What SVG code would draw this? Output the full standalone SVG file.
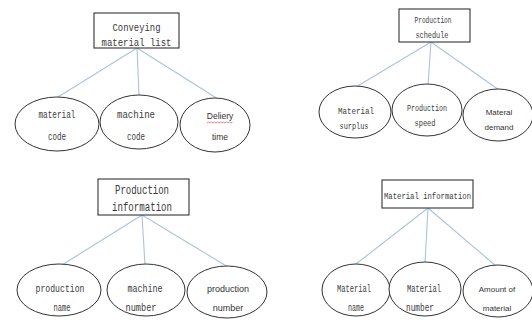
<svg xmlns="http://www.w3.org/2000/svg" width="532" height="325" viewBox="0 0 532 325">
<style>
.box{fill:#fff;stroke:#333;stroke-width:1.1}
.ell{fill:#fff;stroke:#333;stroke-width:1}
.con{stroke:#a9c4dc;stroke-width:1.1;fill:none}
.m{font-family:"Liberation Mono","DejaVu Sans Mono",monospace;fill:#3a3a3a;text-anchor:middle}
.s{font-family:"Liberation Sans",Arial,sans-serif;fill:#333;text-anchor:middle}
</style>
<rect width="532" height="325" fill="#fff"/>
<g id="connectors">
<path class="con" d="M137 48L58 97M137 48L139 95M137 48L218 99"/>
<path class="con" d="M431 42L356 87M431 42L428 85M431 42L499 90"/>
<path class="con" d="M142 215L62 265M142 215L145 265M142 215L228 267"/>
<path class="con" d="M428 208L356 264M428 208L425 263M428 208L496 266"/>
</g>
<g id="conveying-material-list">
<rect class="box" x="94" y="13" width="85" height="35"/>
<text class="m" x="136.5" y="31" font-size="11" textLength="48" lengthAdjust="spacingAndGlyphs">Conveying</text>
<text class="m" x="136.5" y="46" font-size="11" textLength="70" lengthAdjust="spacingAndGlyphs">material list</text>
</g>
<g id="material-code">
<ellipse class="ell" cx="57" cy="124" rx="42" ry="27"/>
<text class="m" x="57" y="118" font-size="10" textLength="37" lengthAdjust="spacingAndGlyphs">material</text>
<text class="m" x="57" y="140" font-size="10" textLength="18" lengthAdjust="spacingAndGlyphs">code</text>
</g>
<g id="machine-code">
<ellipse class="ell" cx="139" cy="122" rx="39" ry="27"/>
<text class="m" x="136" y="118" font-size="10" textLength="38" lengthAdjust="spacingAndGlyphs">machine</text>
<text class="m" x="136" y="140" font-size="10" textLength="18" lengthAdjust="spacingAndGlyphs">code</text>
</g>
<g id="delivery-time">
<ellipse class="ell" cx="215" cy="125" rx="35" ry="27"/>
<text class="s" x="220" y="119" font-size="8.5">Deliery</text>
<path d="M207 123l1.5 -1 1.5 1 1.5 -1 1.5 1 1.5 -1 1.5 1 1.5 -1 1.5 1 1.5 -1 1.5 1 1.5 -1 1.5 1 1.5 -1 1.5 1 1.5 -1 1.5 1 1.5 -1" fill="none" stroke="#e03030" stroke-width="0.6"/>
<text class="s" x="220" y="140" font-size="8.5">time</text>
</g>
<g id="production-schedule">
<rect class="box" x="399" y="9" width="71" height="33"/>
<text class="m" x="433" y="23" font-size="8.5" textLength="37" lengthAdjust="spacingAndGlyphs">Production</text>
<text class="m" x="432" y="38" font-size="8.5" textLength="33" lengthAdjust="spacingAndGlyphs">schedule</text>
</g>
<g id="material-surplus">
<ellipse class="ell" cx="355" cy="112" rx="36" ry="26"/>
<text class="m" x="356" y="114" font-size="9" textLength="36" lengthAdjust="spacingAndGlyphs">Material</text>
<text class="m" x="354" y="129" font-size="9" textLength="29" lengthAdjust="spacingAndGlyphs">surplus</text>
</g>
<g id="production-speed">
<ellipse class="ell" cx="427" cy="110" rx="35" ry="26"/>
<text class="m" x="427" y="111" font-size="9" textLength="40" lengthAdjust="spacingAndGlyphs">Production</text>
<text class="m" x="425" y="126" font-size="9" textLength="21" lengthAdjust="spacingAndGlyphs">speed</text>
</g>
<g id="material-demand">
<ellipse class="ell" cx="498" cy="115" rx="35" ry="26"/>
<text class="s" x="499" y="115" font-size="8">Materal</text>
<text class="s" x="499" y="130" font-size="8">demand</text>
</g>
<g id="production-information">
<rect class="box" x="98" y="179" width="91" height="36"/>
<text class="m" x="142" y="194" font-size="12" textLength="54" lengthAdjust="spacingAndGlyphs">Production</text>
<text class="m" x="142" y="211" font-size="12" textLength="60" lengthAdjust="spacingAndGlyphs">information</text>
</g>
<g id="production-name">
<ellipse class="ell" cx="59" cy="290" rx="42" ry="26"/>
<text class="m" x="60" y="292" font-size="10.5" textLength="49" lengthAdjust="spacingAndGlyphs">production</text>
<text class="m" x="62" y="311" font-size="10.5" textLength="17" lengthAdjust="spacingAndGlyphs">name</text>
</g>
<g id="machine-number">
<ellipse class="ell" cx="146" cy="290" rx="39" ry="26"/>
<text class="m" x="145" y="292" font-size="10.5" textLength="35" lengthAdjust="spacingAndGlyphs">machine</text>
<text class="m" x="141" y="311" font-size="10" textLength="31" lengthAdjust="spacingAndGlyphs">number</text>
</g>
<g id="production-number">
<ellipse class="ell" cx="227" cy="292" rx="40" ry="26"/>
<text class="s" x="228" y="292" font-size="9">production</text>
<text class="s" x="228" y="311" font-size="9">number</text>
</g>
<g id="material-information">
<rect class="box" x="382" y="180" width="91" height="28"/>
<text class="m" x="427.5" y="199" font-size="9.5" textLength="87" lengthAdjust="spacingAndGlyphs">Material information</text>
</g>
<g id="material-name">
<ellipse class="ell" cx="356" cy="290" rx="34" ry="26"/>
<text class="m" x="354" y="292" font-size="10" textLength="34" lengthAdjust="spacingAndGlyphs">Material</text>
<text class="m" x="356" y="311" font-size="10" textLength="16" lengthAdjust="spacingAndGlyphs">name</text>
</g>
<g id="material-number">
<ellipse class="ell" cx="425" cy="289" rx="36" ry="27"/>
<text class="m" x="424" y="292" font-size="10" textLength="34" lengthAdjust="spacingAndGlyphs">Material</text>
<text class="m" x="420" y="311" font-size="10" textLength="28" lengthAdjust="spacingAndGlyphs">number</text>
</g>
<g id="amount-of-material">
<ellipse class="ell" cx="498" cy="291" rx="35" ry="26"/>
<text class="s" x="497" y="292" font-size="8">Amount of</text>
<text class="s" x="497" y="311" font-size="8">material</text>
</g>
</svg>
